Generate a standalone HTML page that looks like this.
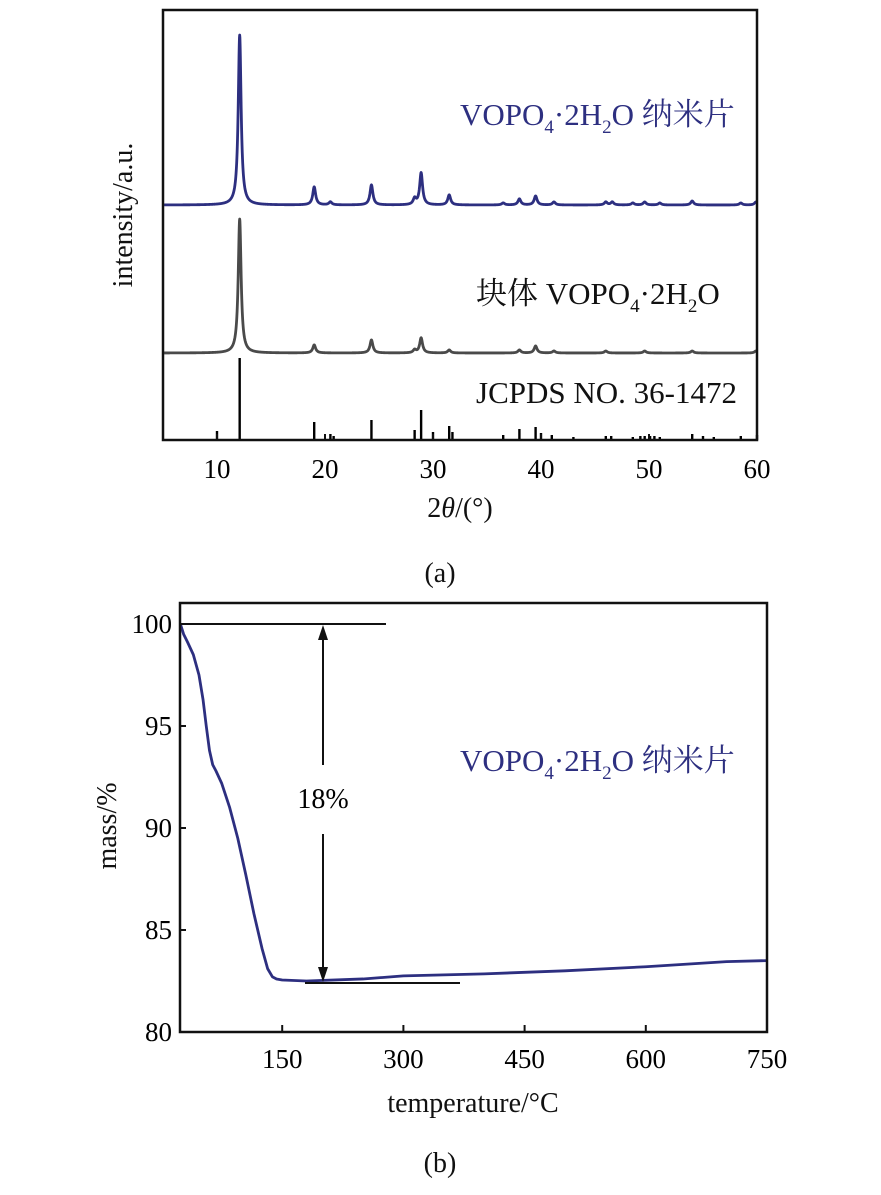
<!DOCTYPE html>
<html><head><meta charset="utf-8"><style>
body{margin:0;background:#fff;}
svg text{font-family:"Liberation Serif","Noto Serif CJK SC",serif;}
</style></head><body>
<svg id="s" width="881" height="1190" xmlns="http://www.w3.org/2000/svg">
<g id="ga"></g>
<g id="gb"></g>
<g fill="none" stroke="#111" stroke-width="2">
<line x1="182" y1="624" x2="386" y2="624"/>
<line x1="305" y1="983" x2="460" y2="983"/>
<line x1="323" y1="632" x2="323" y2="765"/>
<line x1="323" y1="834" x2="323" y2="975"/>
</g>
<polygon points="323,625 318,640 328,640" fill="#111"/>
<polygon points="323,982 318,967 328,967" fill="#111"/>
<text x="323" y="808" font-size="28" text-anchor="middle">18%</text>
<g font-size="31">
<text x="460" y="125" fill="#2d2f80">VOPO<tspan font-size="19" dy="8">4</tspan><tspan dy="-8">·2H</tspan><tspan font-size="19" dy="8">2</tspan><tspan dy="-8">O 纳米片</tspan></text>
<text x="476" y="304" fill="#111">块体 VOPO<tspan font-size="19" dy="8">4</tspan><tspan dy="-8">·2H</tspan><tspan font-size="19" dy="8">2</tspan><tspan dy="-8">O</tspan></text>
<text x="476" y="403" fill="#111">JCPDS NO. 36-1472</text>
<text x="460" y="771" fill="#2d2f80">VOPO<tspan font-size="19" dy="8">4</tspan><tspan dy="-8">·2H</tspan><tspan font-size="19" dy="8">2</tspan><tspan dy="-8">O 纳米片</tspan></text>
</g>
<g font-size="28">
<text transform="translate(132,215) rotate(-90)" text-anchor="middle" fill="#111">intensity/a.u.</text>
<text x="460" y="517" text-anchor="middle" fill="#111">2<tspan font-style="italic">θ</tspan>/(°)</text>
<text x="440" y="582" text-anchor="middle" fill="#111">(a)</text>
<text transform="translate(116,826) rotate(-90)" text-anchor="middle" fill="#111">mass/%</text>
<text x="473" y="1112" text-anchor="middle" fill="#111">temperature/°C</text>
<text x="440" y="1172" text-anchor="middle" fill="#111">(b)</text>
</g>
</svg>
<script>
// XRD data (a)
const blueX=[12.1,19.0,20.5,24.3,28.3,28.9,31.5,36.5,38.0,39.5,41.2,46.0,46.6,48.5,49.6,51.0,54.0,58.5,59.9];
const blueH=[170,18,3,20,6,32,10,2,6,9,3,3,3,2,3,2,4,2,3];
const grayX=[12.1,19.0,24.3,28.3,28.9,31.5,38.0,39.5,41.2,46.0,49.6,54.0,59.9];
const grayH=[134,8,13,3,15,3,3,7,2,2,2,2,2];
const stickX=[10,12.1,19,20.5,20.8,24.3,28.3,28.9,30,31.5,31.8,36.5,38,39.5,40,41,43,46,46.5,48.5,49.2,49.6,50.1,50.5,51,54,55,56,58.5,60];
const stickH=[9,82,18,6,4,20,10,30,8,14,8,5,11,13,7,5,3,4,4,3,4,4,4,4,3,6,4,3,4,5];
const xTicksA=[10,20,30,40,50,60];
// TGA data (b)
const tgaT=[24,28,33,40,47,52,56,60,64,68,75,85,95,105,115,125,132,138,143,150,180,250,300,400,500,600,700,750];
const tgaM=[100,99.5,99.1,98.5,97.5,96.3,95,93.8,93.1,92.8,92.2,91.0,89.5,87.7,85.8,84.1,83.1,82.7,82.6,82.55,82.5,82.6,82.75,82.85,83.0,83.2,83.45,83.5];
const xTicksB=[150,300,450,600,750];
const yTicksB=[80,85,90,95,100];

const NS="http://www.w3.org/2000/svg";
function mk(p,tag,attrs,txt){const e=document.createElementNS(NS,tag);for(const k in attrs)e.setAttribute(k,attrs[k]);if(txt!==undefined)e.textContent=txt;p.appendChild(e);return e;}
const ga=document.getElementById('ga'), gb=document.getElementById('gb');

const aL=163,aR=757,aT=10,aB=440;
const xa=v=>aL+(v-5)/(60-5)*(aR-aL);
function prof(xs,hs,x){let s=0;const g=0.16;for(let i=0;i<xs.length;i++){const d=(x-xs[i])/g;s+=hs[i]/(1+d*d);}return s;}
function trace(xs,hs,base,color,name){let d="";for(let v=5.1;v<=60;v+=0.02){const y=base-prof(xs,hs,v);d+=(d?"L":"M")+xa(v).toFixed(2)+","+y.toFixed(2);}
const p=mk(ga,'path',{d:d,fill:'none',stroke:color,'stroke-width':2.8,'stroke-linejoin':'round'});

}
trace(blueX,blueH,205,'#2d2f80','nanosheet-xrd-line');
trace(grayX,grayH,353,'#4a4a4a','bulk-xrd-line');
for(let i=0;i<stickX.length;i++){const l=mk(ga,'line',{x1:xa(stickX[i]),x2:xa(stickX[i]),y1:aB,y2:aB-stickH[i],stroke:'#000','stroke-width':2.4});

}
const fa=mk(ga,'rect',{x:aL,y:aT,width:aR-aL,height:aB-aT,fill:'none',stroke:'#111','stroke-width':2.5});


xTicksA.forEach(v=>{mk(ga,'line',{x1:xa(v),x2:xa(v),y1:aB,y2:aB-6,stroke:'#111','stroke-width':2});
const t=mk(ga,'text',{x:xa(v),y:aB+38,'font-size':27,'text-anchor':'middle'},v);

});

const bL=180,bR=767,bT=603,bB=1032;
const xb=v=>161+v*(767-161)/750;
const yb=v=>1032-(v-80)*(1032-624)/20;
let d="";tgaT.forEach((t,i)=>{d+=(i?"L":"M")+xb(t).toFixed(2)+","+yb(tgaM[i]).toFixed(2);});
const pb=mk(gb,'path',{d:d,fill:'none',stroke:'#2d2f80','stroke-width':2.8,'stroke-linejoin':'round'});


const fb=mk(gb,'rect',{x:bL,y:bT,width:bR-bL,height:bB-bT,fill:'none',stroke:'#111','stroke-width':2.5});


xTicksB.forEach(v=>{mk(gb,'line',{x1:xb(v),x2:xb(v),y1:bB,y2:bB-7,stroke:'#111','stroke-width':2});
const t=mk(gb,'text',{x:xb(v),y:bB+36,'font-size':27,'text-anchor':'middle'},v);

});
yTicksB.forEach(v=>{mk(gb,'line',{x1:bL,x2:bL+6,y1:yb(v),y2:yb(v),stroke:'#111','stroke-width':2});
const t=mk(gb,'text',{x:bL-8,y:yb(v)+9,'font-size':27,'text-anchor':'end'},v);

});
</script>
</body></html>
